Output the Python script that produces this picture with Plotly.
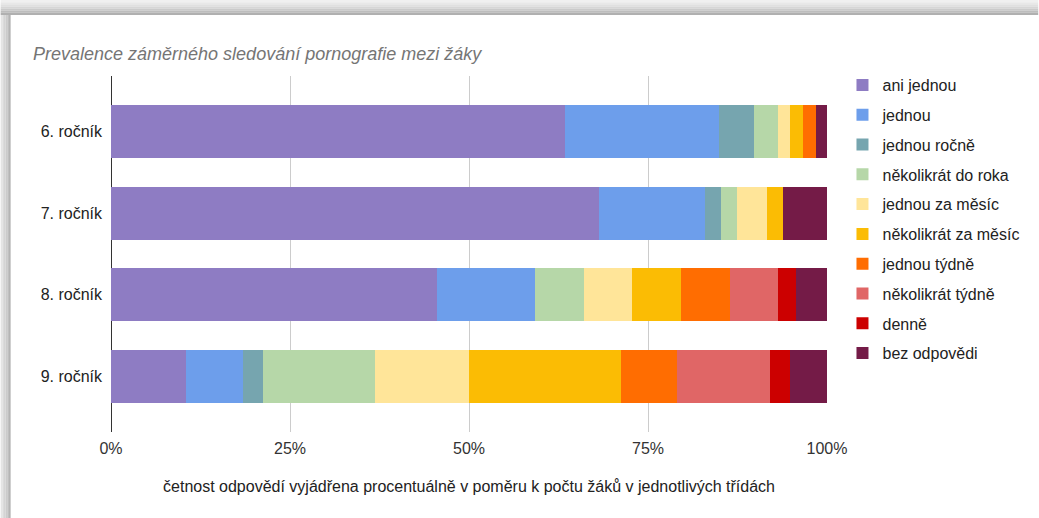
import plotly.graph_objects as go

W, H = 1039, 518
ML, MR, MT, MB = 110.5, 211.5, 76, 86

categories = ["6. ročník", "7. ročník", "8. ročník", "9. ročník"]
series_names = ["ani jednou", "jednou", "jednou ročně", "několikrát do roka",
                "jednou za měsíc", "několikrát za měsíc", "jednou týdně",
                "několikrát týdně", "denně", "bez odpovědi"]
ani_jednou = [63.4, 68.1, 45.5, 10.5]
jednou = [21.5, 14.9, 13.7, 8.0]
jednou_rocne = [4.9, 2.2, 0.0, 2.7]
nekolikrat_do_roka = [3.4, 2.2, 6.8, 15.7]
jednou_za_mesic = [1.7, 4.2, 6.7, 13.1]
nekolikrat_za_mesic = [1.8, 2.2, 6.9, 21.2]
jednou_tydne = [1.7, 0.0, 6.8, 7.8]
nekolikrat_tydne = [0.0, 0.0, 6.8, 13.1]
denne = [0.0, 0.0, 2.4, 2.8]
bez_odpovedi = [1.6, 6.2, 4.4, 5.1]
tick_vals = [0, 25, 50, 75, 100]
tick_text = ["0%", "25%", "50%", "75%", "100%"]

colors = ["#8e7cc3", "#6d9eeb", "#76a5af", "#b6d7a8", "#ffe599",
          "#fbbc04", "#ff6d01", "#e06666", "#cc0000", "#741b47"]
series = [ani_jednou, jednou, jednou_rocne, nekolikrat_do_roka, jednou_za_mesic,
          nekolikrat_za_mesic, jednou_tydne, nekolikrat_tydne, denne, bez_odpovedi]

fig = go.Figure()
for name, vals, col in zip(series_names, series, colors):
    fig.add_trace(go.Bar(
        y=categories, x=vals, name=name, orientation="h",
        marker=dict(color=col, line=dict(width=0)),
        legendgroup=name,
    ))

PW = W - ML - MR
PH = H - MT - MB

def px_x(p):
    return (p - ML) / PW

def px_y(p):
    return (H - MB - p) / PH

shapes = []
# card shadow: top band and left band
top_grays = ["#f0f0f0", "#e8e8e8", "#e0e0e0", "#d6d6d6", "#cacaca", "#bdbdbd", "#b0b0b0"]
n = len(top_grays)
for i, g in enumerate(top_grays):
    y0 = i * 15 / n
    y1 = (i + 1) * 15 / n
    shapes.append(dict(type="rect", xref="paper", yref="paper",
                       x0=px_x(0), x1=px_x(W), y0=px_y(y1), y1=px_y(y0),
                       fillcolor=g, line=dict(width=0), layer="below"))
left_grays = ["#e4e4e4", "#dcdcdc", "#d4d4d4", "#cbcbcb", "#c0c0c0", "#b4b4b4"]
n = len(left_grays)
for i, g in enumerate(left_grays):
    x0 = i * 10 / n
    x1 = (i + 1) * 10 / n
    shapes.append(dict(type="rect", xref="paper", yref="paper",
                       x0=px_x(x0), x1=px_x(x1), y0=px_y(H), y1=px_y(15),
                       fillcolor=g, line=dict(width=0), layer="below"))

fig.update_layout(
    width=W, height=H,
    margin=dict(l=ML, r=MR, t=MT, b=MB, autoexpand=False),
    paper_bgcolor="white", plot_bgcolor="white",
    barmode="stack", bargap=0.355,
    font=dict(family="Liberation Sans, Arial, sans-serif", size=16, color="#222222"),
    title=dict(text="Prevalence záměrného sledování pornografie mezi žáky",
               xref="container", yref="container", x=33 / W, xanchor="left",
               y=1 - 54 / H, yanchor="middle",
               font=dict(size=18, color="#757575", style="italic",
                         family="Liberation Sans, Arial, sans-serif")),
    xaxis=dict(range=[0, 100], tickvals=tick_vals, ticktext=tick_text,
               showgrid=True, gridcolor="#cccccc", gridwidth=1,
               zeroline=True, zerolinecolor="#333333", zerolinewidth=1,
               showline=False, ticks="", ticklabelstandoff=5,
               tickfont=dict(size=16, color="#333333"),
               title=dict(text="četnost odpovědí vyjádřena procentuálně v poměru k počtu žáků v jednotlivých třídách",
                          font=dict(size=16, color="#222222"), standoff=24)),
    yaxis=dict(categoryorder="array", categoryarray=categories,
               range=[3.68, -0.68], showgrid=False, showline=False,
               ticks="", ticklabelstandoff=8, tickfont=dict(size=16, color="#222222")),
    legend=dict(x=px_x(843), xanchor="left", y=px_y(68), yanchor="top",
                traceorder="grouped", tracegroupgap=6, maxheight=440,
                font=dict(size=16, color="#222222"), bgcolor="rgba(0,0,0,0)"),
    shapes=shapes,
    showlegend=True,
)

fig.write_html("out.html", config={"displayModeBar": False},
               post_script="document.body.style.margin='0';document.body.style.overflow='hidden';")
